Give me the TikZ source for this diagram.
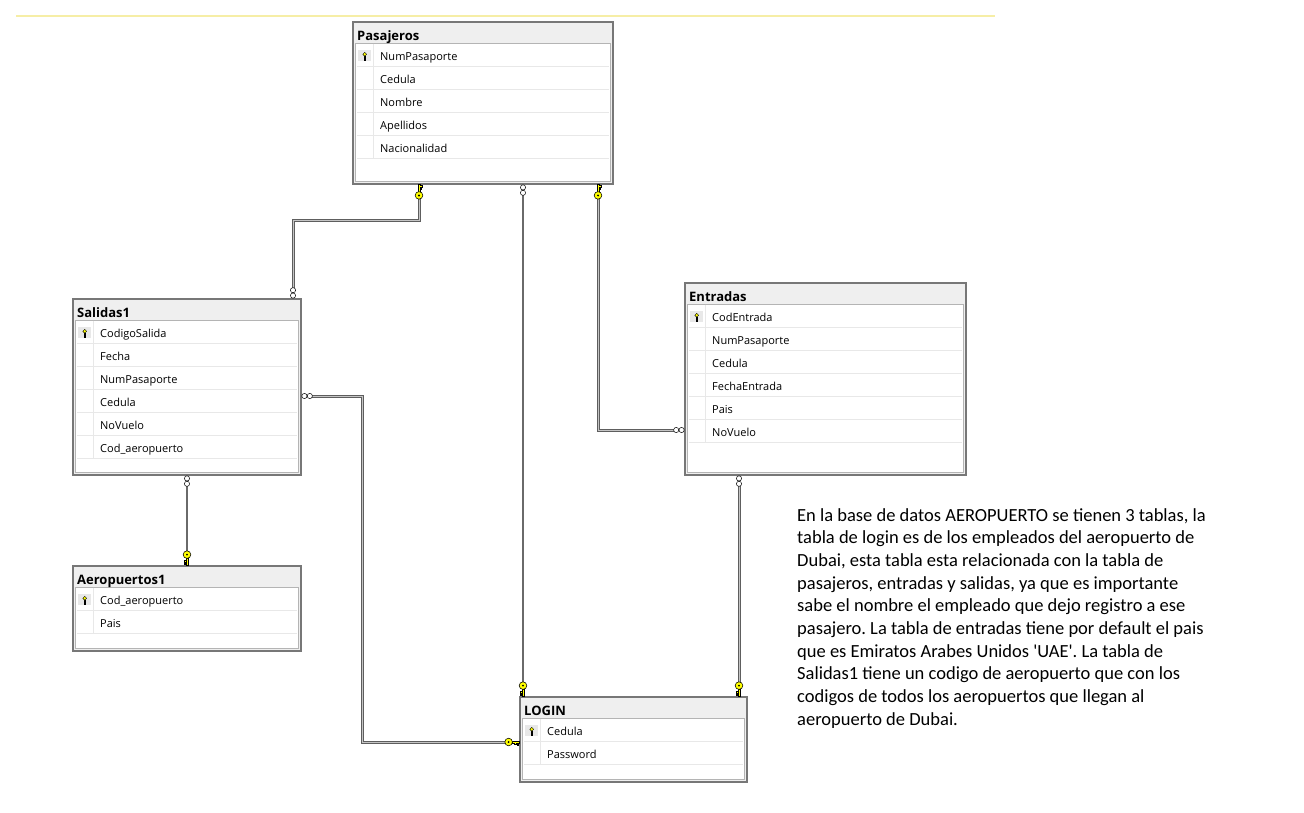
\documentclass[tikz,border=0pt]{standalone}
\usepackage{fontspec}
\setmainfont{Open Sans}
\newfontfamily\calibri{Carlito}
\usetikzlibrary{calc}
\frenchspacing
\definecolor{hdr}{HTML}{EFEFEF}
\definecolor{outerb}{HTML}{777777}
\definecolor{innerb}{HTML}{B4B4B4}
\definecolor{sepc}{HTML}{E8E8E8}
\definecolor{keyy}{HTML}{FFFF00}
\definecolor{toplinec}{HTML}{F6EEA6}
\definecolor{relout}{HTML}{5E5E5E}
\definecolor{relin}{HTML}{C4C4C4}
\definecolor{reldark}{HTML}{6A6A6A}
\tikzset{
  tblouter/.style={draw=outerb, line width=1.2pt, fill=hdr, inner sep=0pt, outer sep=0pt, rectangle},
  tbltitle/.style={font=\fontsize{13}{15}\selectfont\bfseries, anchor=base west, inner sep=0pt},
  tblrow/.style={font=\fontsize{11}{13}\selectfont, anchor=base west, inner sep=0pt},
  reldouble/.style={draw=relout, line width=1pt, double=relin, double distance=1pt},
  relsingle/.style={draw=reldark, line width=1.8pt},
  paraline/.style={font=\calibri\fontsize{18.5}{22}\selectfont, anchor=base west, inner sep=0pt},
  keymark/.pic={
    \draw[fill=keyy, line width=0.45pt] (-1.1pt,-0.6pt) rectangle (1.1pt,-8pt);
    \draw[fill=keyy, line width=0.4pt] (1.1pt,-1.5pt) -- (3pt,-1.5pt) -- (3pt,-3pt) -- (1.1pt,-3pt);
    \draw[fill=keyy, line width=0.4pt] (1.1pt,-4.2pt) -- (2.6pt,-4.2pt) -- (2.6pt,-5.5pt) -- (1.1pt,-5.5pt);
    \draw[fill=keyy, line width=0.55pt] (0pt,-11.4pt) circle (3.8pt);
    \fill (0pt,-11.4pt) circle (1.1pt);
  },
  manymark/.pic={
    \draw[fill=white, line width=0.5pt] (0pt,-3.4pt) circle (2.6pt);
    \draw[fill=white, line width=0.5pt] (0pt,-8.8pt) circle (2.6pt);
  }
}
% #1 name, #2 x, #3 y, #4 w, #5 h, #6 title, #7 rows
\newcommand\erdtable[7]{%
  \node[tblouter, minimum width=#4pt, minimum height=#5pt, anchor=north west] (#1) at (#2,#3) {};
  \draw[fill=white, draw=innerb, line width=0.8pt] (#2+2.5,#3+21) rectangle (#2+#4-2.5,#3+#5-2.5);
  \node[tbltitle] (#1-title) at (#2+4,#3+18.5) {#6};
  \foreach \t [count=\i] in {#7} {
    \draw[sepc, line width=1pt] (#2+3.5,#3+21+23*\i) -- (#2+#4-4.5,#3+21+23*\i);
    \draw[sepc, line width=1pt] (#2+20,#3+21.5+23*\i-23) -- (#2+20,#3+21+23*\i);
    \node[tblrow] (#1-row\i) at (#2+27,#3+21+23*\i-6) {\t};
  }
  \fill[sepc] (#2+5,#3+21+7) rectangle (#2+18,#3+21+18);
  \draw[fill=keyy, line width=0.35pt] (#2+11.1,#3+21+13.3) rectangle (#2+12.3,#3+21+17);
  \draw[fill=keyy, line width=0.4pt] (#2+11.7,#3+21+11.3) circle (1.9pt);
}
\begin{document}
\begin{tikzpicture}[x=1pt,y=-1pt]
\useasboundingbox (0,0) rectangle (1304,812);
\fill[white] (0,0) rectangle (1304,812);
\draw[toplinec, line width=1.2pt] (16,16) -- (995,16);

\erdtable{pas}{353}{22}{260}{162}{Pasajeros}{NumPasaporte,Cedula,Nombre,Apellidos,Nacionalidad}
\erdtable{sal}{73}{299}{228}{176}{Salidas1}{CodigoSalida,Fecha,NumPasaporte,Cedula,NoVuelo,Cod\_aeropuerto}
\erdtable{ent}{685}{283}{281}{192}{Entradas}{CodEntrada,NumPasaporte,Cedula,FechaEntrada,Pais,NoVuelo}
\erdtable{aer}{73}{566}{228}{85}{Aeropuertos1}{Cod\_aeropuerto,Pais}
\erdtable{log}{520}{697}{227}{85}{LOGIN}{Cedula,Password}

% connector end points
\coordinate (r1a) at ($(pas.south west)+(66,14)$);
\coordinate (r1b) at ($(sal.north west)+(220,-11)$);
\coordinate (r2a) at ($(pas.south west)+(170,11)$);
\coordinate (r2b) at ($(log.north west)+(3,-14)$);
\coordinate (r3a) at ($(pas.south west)+(245,14)$);
\coordinate (r3b) at ($(ent.north west)+(-11,147)$);
\coordinate (r4a) at ($(sal.north east)+(11,97)$);
\coordinate (r4b) at ($(log.north west)+(-14,45)$);
\coordinate (r5a) at ($(sal.south west)+(114,11)$);
\coordinate (r5b) at ($(aer.north west)+(114,-14)$);
\coordinate (r6a) at ($(ent.south west)+(54,11)$);
\coordinate (r6b) at ($(log.north east)+(-8,-14)$);

% connectors
\draw[reldouble] (r1a) -- ++(0,22) -| (r1b);
\draw[relsingle] (r2a) -- (r2b);
\draw[reldouble] (r3a) |- (r3b);
\draw[reldouble] (r4a) -- ++(50,0) |- (r4b);
\draw[relsingle] (r5a) -- (r5b);
\draw[reldouble] (r6a) -- (r6b);

% end markers
\pic at ($(pas.south west)+(66,0)$) {keymark};
\pic[rotate=180] at ($(sal.north west)+(220,0)$) {manymark};
\pic at ($(pas.south west)+(170,0)$) {manymark};
\pic[rotate=180] at ($(log.north west)+(3,0)$) {keymark};
\pic at ($(pas.south west)+(245,0)$) {keymark};
\pic[rotate=-90] at ($(ent.north west)+(0,147)$) {manymark};
\pic[rotate=90] at ($(sal.north east)+(0,97)$) {manymark};
\pic[rotate=-90] at ($(log.north west)+(0,45)$) {keymark};
\pic at ($(sal.south west)+(114,0)$) {manymark};
\pic[rotate=180] at ($(aer.north west)+(114,0)$) {keymark};
\pic at ($(ent.south west)+(54,0)$) {manymark};
\pic[rotate=180] at ($(log.north east)+(-8,0)$) {keymark};

% description
\foreach \ln [count=\k] in {
  {En la base de datos AEROPUERTO se tienen 3 tablas, la},
  {tabla de login es de los empleados del aeropuerto de},
  {Dubai, esta tabla esta relacionada con la tabla de},
  {pasajeros, entradas y salidas, ya que es importante},
  {sabe el nombre el empleado que dejo registro a ese},
  {pasajero. La tabla de entradas tiene por default el pais},
  {que es Emiratos Arabes Unidos 'UAE'. La tabla de},
  {Salidas1 tiene un codigo de aeropuerto que con los},
  {codigos de todos los aeropuertos que llegan al},
  {aeropuerto de Dubai.}} {
  \node[paraline] (para\k) at (797,{521+22.7*(\k-1)}) {\ln};
}
\end{tikzpicture}
\end{document}
